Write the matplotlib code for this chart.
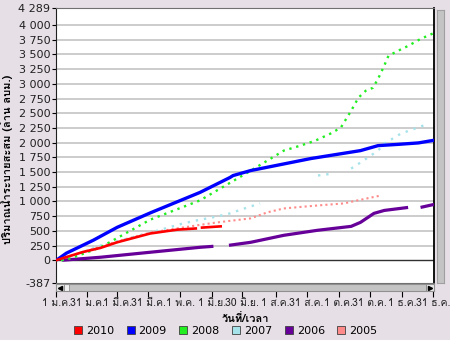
import numpy as np
import matplotlib
matplotlib.use("Agg")
import matplotlib.pyplot as plt
from matplotlib import font_manager
from matplotlib.ft2font import FT2Font
from matplotlib.lines import Line2D
from matplotlib.patches import Rectangle

# หาฟอนต์ที่มีอักษรไทย
def find_thai_font():
    for f in font_manager.fontManager.ttflist:
        try:
            if 0x0E01 in FT2Font(f.fname).get_charmap():
                return f.name
        except Exception:
            pass
    return "DejaVu Sans"

thai = find_thai_font()
plt.rcParams["font.family"] = ["DejaVu Sans", thai]
thai_fam = [thai, "DejaVu Sans"]

# ข้อมูล (วันของปี, ปริมาณน้ำระบายสะสม ล้าน ลบ.ม.)
years = ["2010", "2009", "2008", "2007", "2006", "2005"]
colors = ["#ff0000", "#0000ff", "#22ee22", "#a6e2ea", "#660099", "#ff8a8a"]

d2010 = [0, 26, 43, 59, 91, 117, 135, 137, 141, 159]
v2010 = [0, 140, 210, 305, 455, 520, 540, np.nan, 555, 576]

d2009 = [2, 10, 23, 36, 59, 91, 139, 168, 171, 188, 246, 294, 311, 330, 350, 365]
v2009 = [20, 120, 230, 340, 559, 805, 1153, 1407, 1440, 1525, 1729, 1864, 1949, 1970, 1995, 2040]

d2008 = [5, 14, 43, 91, 139, 185, 220, 236, 250, 265, 275, 285, 292, 299, 306, 311,
         316, 321, 330, 340, 352, 365]
v2008 = [0, 30, 220, 690, 1017, 1491, 1864, 1949, 2030, 2153, 2254, 2542, 2763, 2881,
         2932, 3085, 3271, 3475, 3559, 3644, 3763, 3864]

d2007 = [5, 43, 91, 123, 136, 156, 168, 185, 197, 205, 215, 217, 225, 234, 240,
         253, 268, 272, 285, 297, 301, 311, 317, 333, 357]
v2007 = [0, 250, 470, 627, 678, 746, 797, 898, 966, np.nan, np.nan, 1102, np.nan,
         1305, np.nan, 1441, 1475, np.nan, 1559, 1695, 1746, 1864, 1983, 2153, 2305]

d2006 = [6, 43, 91, 139, 152, 160, 167, 188, 220, 252, 285, 294, 307, 317, 340,
         346, 352, 365]
v2006 = [0, 51, 136, 220, 237, np.nan, 254, 305, 424, 508, 576, 644, 797, 847, 898,
         np.nan, 898, 949]

d2005 = [0, 26, 59, 91, 136, 156, 188, 204, 220, 253, 278, 291, 314]
v2005 = [0, 140, 320, 470, 593, 644, 712, 814, 881, 932, 966, 1017, 1102]

tick_days = [0, 30, 59, 89, 120, 151, 180, 212, 242, 273, 303, 334, 364]
tick_labels = ["1 ม.ค.", "31 ม.ค.", "1 มี.ค.", "31 มี.ค.", "1 พ.ค.", "1 มิ.ย.",
               "30 มิ.ย.", "1 ส.ค.", "31 ส.ค.", "1 ต.ค.", "31 ต.ค.", "1 ธ.ค.", "31 ธ.ค."]
y_ticks = [-387] + list(range(0, 4001, 250)) + [4289]

bg = "#e6dfe6"
fig = plt.figure(figsize=(4.5, 3.4), dpi=100, facecolor=bg)
W, H = 450.0, 340.0
ax = fig.add_axes([56 / W, 1 - 283 / H, (434 - 56) / W, (283 - 8) / H])
ax.set_facecolor("white")

for y in range(250, 4001, 250):
    ax.axhline(y, color="#c8c8c8", lw=1.3, zorder=1)
ax.axhline(0, color="#303030", lw=1.0, zorder=1)

ax.plot(d2006, v2006, color=colors[4], lw=2.3, zorder=3, solid_capstyle="butt")
ax.plot(d2005, v2005, color=colors[5], lw=1.5, ls=(0, (1, 1.5)), zorder=3)
ax.plot(d2007, v2007, color=colors[3], lw=1.7, ls=(0, (1, 2.5)), zorder=3)
ax.plot(d2008, v2008, color=colors[2], lw=1.7, ls=(0, (1, 2)), zorder=4)
ax.plot(d2009, v2009, color=colors[1], lw=2.4, zorder=5)
ax.plot(d2010, v2010, color=colors[0], lw=1.9, zorder=6)

ax.set_xlim(0, 365)
ax.set_ylim(-387, 4289)
ax.set_yticks(y_ticks)
ax.set_yticklabels([f"{v:,}".replace(",", " ") for v in y_ticks], fontsize=8, color="#202020")
ax.tick_params(axis="y", length=3, pad=1, width=0.8)
ax.set_xticks([])
for s in ["top", "bottom"]:
    ax.spines[s].set_color("#707070")
ax.spines["left"].set_color("#202020")
ax.spines["right"].set_color("#000000")
ax.spines["right"].set_linewidth(1.3)

ax.set_ylabel("ปริมาณน้ำระบายสะสม (ล้าน ลบม.)", fontsize=8, fontweight="bold",
              family=thai_fam)
ax.yaxis.set_label_coords(-43 / 378, 0.45)

# แถบเลื่อนด้านล่าง (มีแกน x)
sx = fig.add_axes([56 / W, 1 - 291 / H, (434 - 56) / W, 7 / H], facecolor="#c4c4c4")
sx.set_xlim(0, 365)
sx.set_yticks([])
sx.set_xticks(tick_days)
sx.set_xticklabels(tick_labels, fontsize=7.5, color="#202020", family=thai_fam)
sx.tick_params(axis="x", length=4, pad=1, width=0.8)
for s in sx.spines.values():
    s.set_color("#909090")
sx.add_patch(Rectangle((0, 0), 0.022, 1, transform=sx.transAxes, fc="#e8e8e8", ec="#808080", lw=0.6))
sx.add_patch(Rectangle((0.978, 0), 0.022, 1, transform=sx.transAxes, fc="#e8e8e8", ec="#808080", lw=0.6))
sx.add_patch(Rectangle((0.022, 0), 0.012, 1, transform=sx.transAxes, fc="#f0f0f0", ec="#909090", lw=0.6))
sx.plot([0.011], [0.5], marker="<", ms=3, color="black", transform=sx.transAxes, clip_on=False)
sx.plot([0.989], [0.5], marker=">", ms=3, color="black", transform=sx.transAxes, clip_on=False)
sx.set_xlabel("วันที่/เวลา", fontsize=8, fontweight="bold", labelpad=4, family=thai_fam)

# แถบเลื่อนด้านขวา
sy = fig.add_axes([437 / W, 1 - 283 / H, 7 / W, (283 - 10) / H], facecolor="#c4c4c4")
sy.set_xticks([])
sy.set_yticks([])
for s in sy.spines.values():
    s.set_color("#a0a0a0")

handles = [Line2D([], [], ls="none", marker="s", ms=6, mfc=c, mec="#404040", mew=0.6)
           for c in colors]
fig.legend(handles, years, loc="center", bbox_to_anchor=(0.5, 1 - 331 / H), ncol=6,
           frameon=False, fontsize=8, handletextpad=0.2, columnspacing=1.0,
           handlelength=1.0)

fig.savefig("out.png", dpi=100, facecolor=bg)
